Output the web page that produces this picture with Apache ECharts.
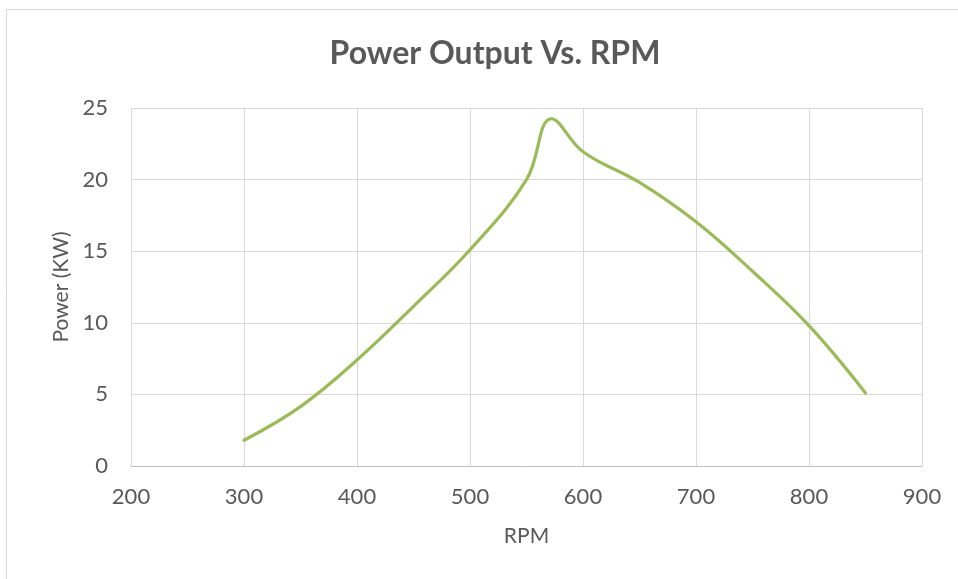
<!DOCTYPE html>
<html>
<head>
<meta charset="utf-8">
<script src="https://cdn.jsdelivr.net/npm/echarts@6/dist/echarts.min.js"></script>
<style>
  html, body { margin: 0; padding: 0; background: #fff; }
  #chart { width: 958px; height: 579px; }
</style>
</head>
<body>
<div id="chart"></div>
<script>
// Engine speed (RPM) and measured power output (kW)
const rpm = [300, 350, 400, 450, 500, 550, 572, 600, 650, 700, 750, 800, 850];
const powerKW = [1.8, 4.15, 7.4, 11.15, 15.1, 20.0, 24.25, 21.95, 19.8, 17.05, 13.6, 9.8, 5.1];

const xTicks = [200, 300, 400, 500, 600, 700, 800, 900];
const yTicks = [0, 5, 10, 15, 20, 25];

const FONT = 'Lato, "Open Sans", sans-serif';
const TEXT = '#595959';

const chart = echarts.init(document.getElementById('chart'), null, { renderer: 'canvas' });

chart.setOption({
  animation: false,
  backgroundColor: '#ffffff',
  graphic: [{
    type: 'rect',
    shape: { x: 6.5, y: 9.5, width: 1000, height: 640 },
    style: { fill: 'none', stroke: '#d9d9d9', lineWidth: 1 },
    silent: true
  }],
  title: {
    text: 'Power Output Vs. RPM',
    left: 490,
    top: 33,
    textAlign: 'center',
    textStyle: { fontFamily: FONT, fontWeight: 'bold', fontSize: 32, color: TEXT }
  },
  grid: { left: 131, right: 36, top: 108, bottom: 113, containLabel: false },
  xAxis: {
    type: 'value',
    min: xTicks[0],
    max: xTicks[xTicks.length - 1],
    interval: 100,
    name: 'RPM',
    nameLocation: 'middle',
    nameGap: 60,
    nameTextStyle: { fontFamily: FONT, fontSize: 21, color: TEXT },
    axisLine: { show: true, lineStyle: { color: '#bfbfbf', width: 1 } },
    axisTick: { show: false },
    axisLabel: { fontFamily: FONT, fontSize: 22, color: TEXT, margin: 20 },
    splitLine: { show: true, lineStyle: { color: '#d9d9d9', width: 1 } }
  },
  yAxis: {
    type: 'value',
    min: yTicks[0],
    max: yTicks[yTicks.length - 1],
    interval: 5,
    name: 'Power (KW)',
    nameLocation: 'middle',
    nameGap: 58,
    nameTextStyle: { fontFamily: FONT, fontSize: 21, color: TEXT },
    axisLine: { show: false },
    axisTick: { show: false },
    axisLabel: { fontFamily: FONT, fontSize: 22, color: TEXT, margin: 23 },
    splitLine: { show: true, lineStyle: { color: '#d9d9d9', width: 1 } }
  },
  series: [{
    type: 'line',
    data: rpm.map((r, i) => [r, powerKW[i]]),
    smooth: 0.4,
    showSymbol: false,
    lineStyle: { color: '#9bbb59', width: 3.2, cap: 'round', join: 'round' },
    itemStyle: { color: '#9bbb59' }
  }]
});
</script>
</body>
</html>
